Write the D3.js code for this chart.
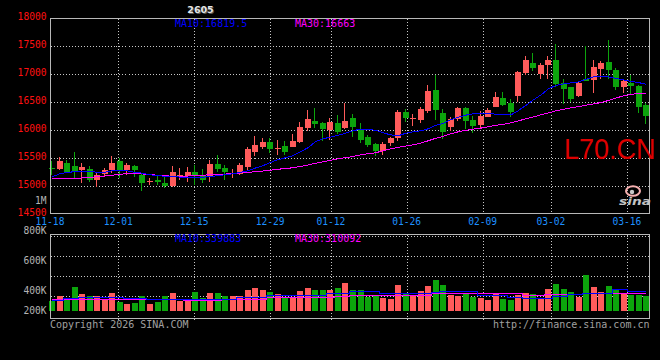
<!DOCTYPE html>
<html><head><meta charset="utf-8">
<script src="https://cdn.jsdelivr.net/npm/d3@7/dist/d3.min.js"></script>
<style>html,body{margin:0;padding:0;background:#000;overflow:hidden}svg{display:block}</style>
</head><body><svg id="c" width="660" height="360"></svg>
<script>
// ---------------- DATA ----------------
const dates = ["11-18","11-19","11-20","11-21","11-24","11-25","11-26","11-27","11-28",
"12-01","12-02","12-03","12-04","12-05","12-08","12-09","12-10","12-11","12-12",
"12-15","12-16","12-17","12-18","12-19","12-22","12-23","12-24","12-25","12-26",
"12-29","12-30","12-31","01-05","01-06","01-07","01-08","01-09",
"01-12","01-13","01-14","01-15","01-16","01-19","01-20","01-21","01-22","01-23",
"01-26","01-27","01-28","01-29","01-30","02-02","02-03","02-04","02-05","02-06",
"02-09","02-10","02-11","02-12","02-13","02-24","02-25","02-26","02-27",
"03-02","03-03","03-04","03-05","03-06","03-09","03-10","03-11","03-12","03-13",
"03-16","03-17","03-18","03-19"];
const openP = [15330,15309,15420,15350,15291,15300,15110,15215,15279,15452,15290,15362,15200,15070,15100,15054,14993,15190,15171,15243,
15171,15170,15400,15330,15210,15220,15340,15600,15690,15786,15670,15725,15707,15796,16046,16166,16125,16005,16136,16046,
16214,16005,15875,15756,15630,15768,15857,16321,16205,16184,16350,16720,16304,16054,16196,16393,16184,16095,16232,16410,
16570,16482,16618,17029,17196,17005,17166,17255,16839,16768,16618,16906,16898,17089,17225,17077,16779,16850,16791,16452];
const highP = [15452,15518,15470,15600,15411,15360,15260,15330,15540,15500,15420,15380,15240,15143,15190,15170,15362,15320,15340,15380,
15310,15470,15560,15370,15300,15420,15707,15898,15860,15857,15827,15810,15934,16154,16363,16393,16154,16214,16273,16493,
16291,16125,15916,15768,15786,15880,16363,16375,16291,16422,16809,16988,16375,16232,16410,16410,16255,16345,16393,16679,
16690,16554,17060,17327,17386,17196,17327,17541,16911,16779,16880,17500,17255,17237,17612,17107,16911,16988,16809,16493];
const lowP = [15202,15280,15230,15125,15054,15080,14982,15180,15240,15143,15200,15170,14904,15023,15023,14970,14982,15100,15080,15023,
15060,15080,15260,15110,15150,15190,15280,15530,15660,15590,15560,15560,15707,15768,15993,16036,15814,15827,15934,16023,
15886,15768,15690,15530,15560,15720,15814,16154,16082,16136,16304,16184,15840,15987,16160,16018,15957,16036,16232,16410,
16434,16243,16511,16988,17064,16911,16911,16779,16470,16511,16600,16870,16661,16916,16911,16720,16672,16650,16304,16113];
const closeP = [15320,15452,15245,15260,15332,15110,15200,15290,15411,15279,15380,15279,15054,15085,15065,15000,15243,15200,15243,15200,
15110,15400,15310,15243,15230,15380,15666,15738,15786,15666,15680,15600,15814,16054,16196,16113,16023,16154,15975,16166,
16054,15827,15738,15618,15756,15868,16332,16214,16214,16380,16702,16363,15975,16196,16393,16172,16077,16255,16363,16600,
16452,16332,17046,17255,17118,17166,17255,16827,16738,16559,16850,16880,17136,17207,17077,16768,16886,16797,16411,16256];
const ma10 = [15166,15220,15246,15255,15261,15261,15246,15246,15273,15279,15270,15246,15229,15202,15188,15175,15166,15161,15152,15148,
15157,15171,15184,15202,15220,15243,15273,15321,15363,15421,15470,15505,15541,15612,15684,15791,15845,15875,15907,15943,
15988,16018,16014,15996,15952,15916,15898,15943,15970,15988,16023,16086,16121,16184,16229,16268,16291,16304,16295,16286,
16273,16273,16350,16443,16541,16630,16738,16800,16827,16845,16863,16907,16952,16957,16952,16925,16898,16871,16850,16819.5];
const ma30 = [15143,15143,15143,15130,15148,15157,15166,15179,15193,15211,15220,15220,15216,15207,15193,15184,15175,15175,15179,15184,
15193,15202,15205,15214,15225,15234,15246,15255,15268,15282,15300,15313,15327,15350,15375,15407,15434,15461,15488,15509,
15527,15559,15577,15595,15630,15666,15693,15714,15738,15768,15809,15854,15889,15934,15970,15996,16018,16036,16059,16086,
16104,16130,16166,16202,16238,16273,16309,16345,16371,16398,16421,16446,16470,16493,16532,16577,16612,16639,16657,16663];
const volume = [296000,348500,306000,437600,365000,345500,345500,306000,375000,283000,266000,279000,345500,266000,283000,348500,375000,296000,296000,385000,
323000,375000,375000,345500,345500,345500,405000,425000,405000,385000,362000,329000,329000,398000,425000,405000,405000,405000,428000,477000,
405000,405000,339000,355000,329000,319000,454000,378000,348500,398000,445000,504000,454000,355000,348500,372000,339000,329000,306000,372000,
316000,306000,355000,372000,362000,316000,415000,464000,415000,388000,339000,553000,435000,388000,445000,405000,372000,355000,355000,345500];
const volMa10 = [306000,306000,322800,322800,338600,338600,338600,338600,338600,338600,328700,328700,328700,310900,310900,315800,315800,315800,315800,315800,
315800,315800,315800,315800,315800,335600,335600,335600,335600,355400,355400,355400,355400,355400,355400,355400,355400,378200,378200,378200,
395000,395000,395000,395000,378200,378200,372300,372300,372300,372300,372300,388000,395000,395000,395000,395000,395000,355400,355400,355400,
355400,338600,338600,328700,328700,328700,328700,348500,348500,365300,365300,372300,372300,372300,372300,411900,411900,395000,395000,395000];
const volMa30 = [315800,315800,315800,315800,315800,315800,315800,315800,315800,315800,315800,315800,315800,315800,315800,315800,315800,315800,306000,306000,
306000,306000,306000,315800,315800,315800,315800,315800,315800,338600,338600,338600,338600,338600,338600,338600,338600,338600,348500,348500,
355400,355400,355400,355400,355400,355400,355400,355400,355400,355400,355400,378200,378200,378200,378200,378200,378200,378200,372300,372300,
372300,372300,372300,355400,355400,355400,362400,362400,362400,362400,362400,372300,372300,372300,372300,372300,372300,372300,372300,372300];
const dateTicks = ["11-18","12-01","12-15","12-29","01-12","01-26","02-09","03-02","03-16"];
const priceTicks = [18000,17500,17000,16500,16000,15500,15000,14500];
const volTicks = [800000,600000,400000,200000];
const volTickLabels = ["800K","600K","400K","200K"];
const maNames = ["MA10","MA30"];
const priceMaLast = ["16819.5","16663"];
const volMaLast = ["339883","310092"];
const contractTitle = "2605";
const symbolText = "L70.CN";
const unitText = "1M";
const copyrightText = "Copyright 2026 SINA.COM";
const urlText = "http://finance.sina.com.cn";

// ---------------- DRAW ----------------
const svg = d3.select("#c");
const UP = "#ff5b5b", DOWN = "#0ca40c", BLUE = "#0000ff", MAG = "#ff00ff";
const GRID = "#c8c8c8", BORDER = "#b8b8b8";
const MONO = "'DejaVu Sans Mono', monospace";
svg.append("rect").attr("width",660).attr("height",360).attr("fill","#000");

const L = 50.5, R = 649.5;
const PT = 18.5, PB = 213.5;
const VT = 234.5, VB = 318.5;

const xBand = d3.scaleBand().domain(dates).range([48.5, 650]);
const xc = d => xBand(d) + xBand.bandwidth()/2;
const xAxis = d3.scalePoint().domain(dates).range([50, 649.6]);
const yP = d3.scaleLinear().domain([14500, 18000]).range([214, 18.3]);
const yV = d3.scaleLinear().domain([200000, 400000]).range([310.7, 290.5]);
const yVLabel = d3.scaleLinear().domain([200000, 400000, 600000, 800000]).range([314.3, 294.2, 264.2, 234.2]);
const yVGrid = d3.scaleLinear().domain([0, 4]).range([235.5, 315.5]);
const px = v => Math.round(v) + 0.5;

const g = svg.append("g").attr("shape-rendering","crispEdges");

// price grid
g.selectAll(".hg").data(priceTicks.filter(t => t < 18000 && t > 14500)).enter().append("line")
  .attr("x1", L).attr("x2", R).attr("y1", d => px(yP(d))).attr("y2", d => px(yP(d)))
  .attr("stroke", GRID).attr("stroke-dasharray","1,2");
g.selectAll(".vg").data(dateTicks.slice(1)).enter().append("line")
  .attr("x1", d => px(xAxis(d))).attr("x2", d => px(xAxis(d))).attr("y1", PT).attr("y2", PB)
  .attr("stroke", GRID).attr("stroke-dasharray","1,2");
// volume grid
g.selectAll(".vhg").data(d3.range(4)).enter().append("line")
  .attr("x1", L).attr("x2", R).attr("y1", d => px(yVGrid(d))).attr("y2", d => px(yVGrid(d)))
  .attr("stroke", GRID).attr("stroke-dasharray","1,2");
g.selectAll(".vvg").data(dateTicks.slice(1)).enter().append("line")
  .attr("x1", d => px(xAxis(d))).attr("x2", d => px(xAxis(d))).attr("y1", VT).attr("y2", 322)
  .attr("stroke", GRID).attr("stroke-dasharray","1,2");

// candles
const idx = d3.range(dates.length);
const cg = svg.append("g").attr("shape-rendering","crispEdges");
idx.forEach(i => {
  const col = closeP[i] >= openP[i] ? UP : DOWN;
  const bx = Math.round(xc(dates[i]) - 3);
  cg.append("line").attr("x1", bx + 2.5).attr("x2", bx + 2.5)
    .attr("y1", yP(highP[i])).attr("y2", yP(lowP[i])).attr("stroke", col);
  const y1 = yP(Math.max(openP[i], closeP[i])), y2 = yP(Math.min(openP[i], closeP[i]));
  cg.append("rect").attr("x", bx).attr("width", 6)
    .attr("y", Math.round(y1)).attr("height", Math.max(1, Math.round(y2) - Math.round(y1)))
    .attr("fill", col);
});

// price MA lines
const lineP = arr => d3.line().x(i => xc(dates[i])).y(i => yP(arr[i]))(idx);
cg.append("path").attr("d", lineP(ma30)).attr("fill","none").attr("stroke", MAG).attr("stroke-width",1);
cg.append("path").attr("d", lineP(ma10)).attr("fill","none").attr("stroke", BLUE).attr("stroke-width",1);

// volume bars
idx.forEach(i => {
  const col = closeP[i] >= openP[i] ? UP : DOWN;
  const bx = Math.round(xc(dates[i]) - 3);
  const yt = Math.round(yV(volume[i]));
  cg.append("rect").attr("x", bx).attr("width", 6).attr("y", yt)
    .attr("height", Math.round(yV(200000)) - yt).attr("fill", col);
});
const lineV = arr => d3.line().curve(d3.curveStep).x(i => xc(dates[i])).y(i => Math.round(yV(arr[i])) + 0.5)(idx);
cg.append("path").attr("d", lineV(volMa30)).attr("fill","none").attr("stroke", MAG);
cg.append("path").attr("d", lineV(volMa10)).attr("fill","none").attr("stroke", BLUE);

// borders
const bg = svg.append("g").attr("shape-rendering","crispEdges").attr("stroke", BORDER).attr("fill","none");
bg.append("rect").attr("x", L).attr("y", PT).attr("width", R - L).attr("height", PB - PT);
bg.append("rect").attr("x", L).attr("y", VT).attr("width", R - L).attr("height", VB - VT);

// texts
const t = svg.append("g").attr("font-family", MONO).attr("font-size", "9.6px");
t.selectAll(".py").data(priceTicks).enter().append("text")
  .attr("x", 46.5).attr("y", d => yP(d) + 1.8).attr("text-anchor","end").attr("fill","#ff1010").text(d => d);
t.append("text").attr("x", 46.5).attr("y", 204).attr("text-anchor","end").attr("fill","#b4b4b4").text(unitText);
t.selectAll(".dx").data(dateTicks).enter().append("text")
  .attr("x", d => xAxis(d)).attr("y", 225).attr("text-anchor","middle").attr("fill","#1e90ff").text(d => d);
t.selectAll(".vy").data(volTicks).enter().append("text")
  .attr("x", 46.5).attr("y", d => yVLabel(d)).attr("text-anchor","end").attr("fill","#b4b4b4")
  .text((d, i) => volTickLabels[i]);

const lg = svg.append("g").attr("font-family", MONO).attr("font-size", "10px");
lg.append("text").attr("x", 175).attr("y", 26.5).attr("fill", BLUE).text(maNames[0] + ":" + priceMaLast[0]);
lg.append("text").attr("x", 295).attr("y", 26.5).attr("fill", MAG).text(maNames[1] + ":" + priceMaLast[1]);
lg.append("text").attr("x", 175).attr("y", 242.3).attr("fill", BLUE).text(maNames[0] + ":" + volMaLast[0]);
lg.append("text").attr("x", 295).attr("y", 242.3).attr("fill", MAG).text(maNames[1] + ":" + volMaLast[1]);
lg.append("text").attr("x", 50).attr("y", 327.5).attr("fill", "#a0a0a0").text(copyrightText);
lg.append("text").attr("x", 649.5).attr("y", 327.5).attr("text-anchor","end").attr("fill", "#a0a0a0").text(urlText);

// title
svg.append("text").attr("x", 201.5).attr("y", 14).attr("text-anchor","middle")
  .attr("font-family","'DejaVu Sans', sans-serif").attr("font-size","9.5px").attr("font-weight","bold")
  .attr("fill","#555").text(contractTitle);
svg.append("text").attr("x", 200.5).attr("y", 13).attr("text-anchor","middle")
  .attr("font-family","'DejaVu Sans', sans-serif").attr("font-size","9.5px").attr("font-weight","bold")
  .attr("fill","#e4e4e4").text(contractTitle);

// symbol watermark (natural width ~92px so it stays inside the frame)
svg.append("text").attr("x", 0).attr("y", 0)
  .attr("transform", "translate(564,159.3) scale(1,1.09)")
  .attr("font-family","'Liberation Sans', Arial, sans-serif").attr("font-size","27px")
  .attr("fill","#dd0000").text(symbolText);

// sina logo
const logo = svg.append("g");
logo.append("ellipse").attr("cx", 633).attr("cy", 191).attr("rx", 7).attr("ry", 4.8)
  .attr("fill","none").attr("stroke","#f6b0b0").attr("stroke-width", 2);
logo.append("circle").attr("cx", 632).attr("cy", 192).attr("r", 2.2).attr("fill","#c8c8c8");
logo.append("text").attr("x", 619).attr("y", 205).attr("font-family","'DejaVu Sans', sans-serif")
  .attr("font-size","11px").attr("font-weight","bold").attr("font-style","italic")
  .attr("textLength", 32).attr("lengthAdjust","spacingAndGlyphs").attr("fill","#c4c4c4").text("sina");
</script></body></html>
